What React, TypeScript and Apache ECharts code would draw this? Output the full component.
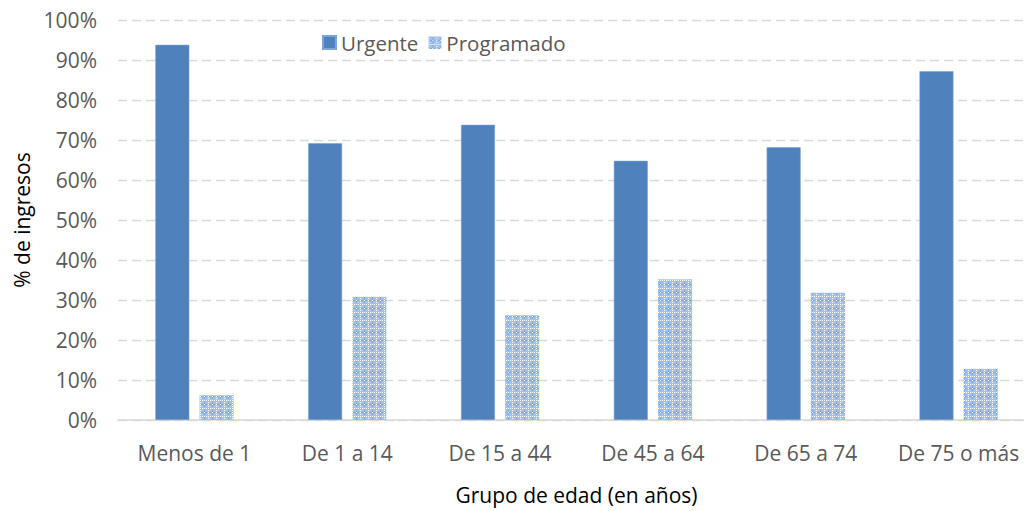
import React, { useEffect, useRef } from "react";
import * as echarts from "echarts";

const categories = ["Menos de 1", "De 1 a 14", "De 15 a 44", "De 45 a 64", "De 65 a 74", "De 75 o más"];
const urgente = [93.8, 69.2, 73.8, 64.8, 68.2, 87.2];
const programado = [6.2, 30.8, 26.2, 35.2, 31.8, 12.8];
const seriesNames = ["Urgente", "Programado"];

const FONT = "'Open Sans', 'Noto Sans', sans-serif";

function makePattern() {
  const c = document.createElement("canvas");
  c.width = 8;
  c.height = 8;
  const ctx = c.getContext("2d")!;
  ctx.fillStyle = "#a3c1ed";
  ctx.fillRect(0, 0, 8, 8);
  ctx.fillStyle = "#ffffff";
  for (let i = 0; i < 8; i += 2) {
    ctx.fillRect(i, 0, 1, 1);
    ctx.fillRect(0, i, 1, 1);
  }
  ctx.fillStyle = "#80a9e3";
  ctx.fillRect(4, 1, 1, 6);
  ctx.fillRect(1, 4, 6, 1);
  ctx.fillStyle = "#ffffff";
  ctx.fillRect(4, 4, 1, 1);
  return c;
}

export default function App() {
  const ref = useRef<HTMLDivElement>(null);
  useEffect(() => {
    if (!ref.current) return;
    const chart = echarts.init(ref.current, undefined, { renderer: "svg" });
    const pat = makePattern();
    const patternColor: any = { image: pat, repeat: "repeat", imageWidth: 8, imageHeight: 8 };
    chart.setOption({
      animation: false,
      backgroundColor: "#ffffff",
      textStyle: { fontFamily: FONT },
      legend: {
        left: 317,
        top: 27,
        itemWidth: 13,
        itemHeight: 13,
        itemGap: 10,
        icon: "rect",
        textStyle: { fontSize: 20.5, color: "#595959", fontFamily: FONT },
        data: seriesNames,
      },
      grid: {
        left: 118,
        right: -11,
        top: 20,
        bottom: 91,
        containLabel: false,
        outerBoundsMode: "none",
      },
      xAxis: {
        type: "category",
        data: categories,
        axisLine: { lineStyle: { color: "#d9d9d9", width: 1.5 } },
        axisTick: { show: false },
        axisLabel: { fontSize: 21, color: "#595959", margin: 22, fontFamily: FONT, interval: 0 },
        name: "Grupo de edad (en años)",
        nameLocation: "middle",
        nameGap: 64,
        nameTextStyle: { fontSize: 21, color: "#000000", fontFamily: FONT },
      },
      yAxis: {
        type: "value",
        min: 0,
        max: 100,
        interval: 10,
        axisLine: { show: false },
        axisTick: { show: false },
        axisLabel: { formatter: "{value}%", fontSize: 21, color: "#595959", margin: 21, fontFamily: FONT },
        splitLine: { lineStyle: { color: "#d9d9d9", width: 1.4, type: [9, 5] } },
        name: "% de ingresos",
        nameLocation: "middle",
        nameGap: 86,
        nameRotate: 90,
        nameTextStyle: { fontSize: 21, color: "#000000", fontFamily: FONT },
      },
      series: [
        {
          name: seriesNames[0],
          type: "bar",
          data: urgente,
          barWidth: 34,
          barGap: "30%",
          itemStyle: { color: "#4f81bd", borderColor: "#7fa3d4", borderWidth: 0.6 },
        },
        {
          name: seriesNames[1],
          type: "bar",
          data: programado,
          barWidth: 34,
          barGap: "30%",
          itemStyle: { color: patternColor },
        },
      ],
    });
    return () => chart.dispose();
  }, []);
  return (
    <div
      ref={ref}
      style={{ position: "absolute", left: 0, top: 0, width: 1024, height: 511 }}
    />
  );
}
